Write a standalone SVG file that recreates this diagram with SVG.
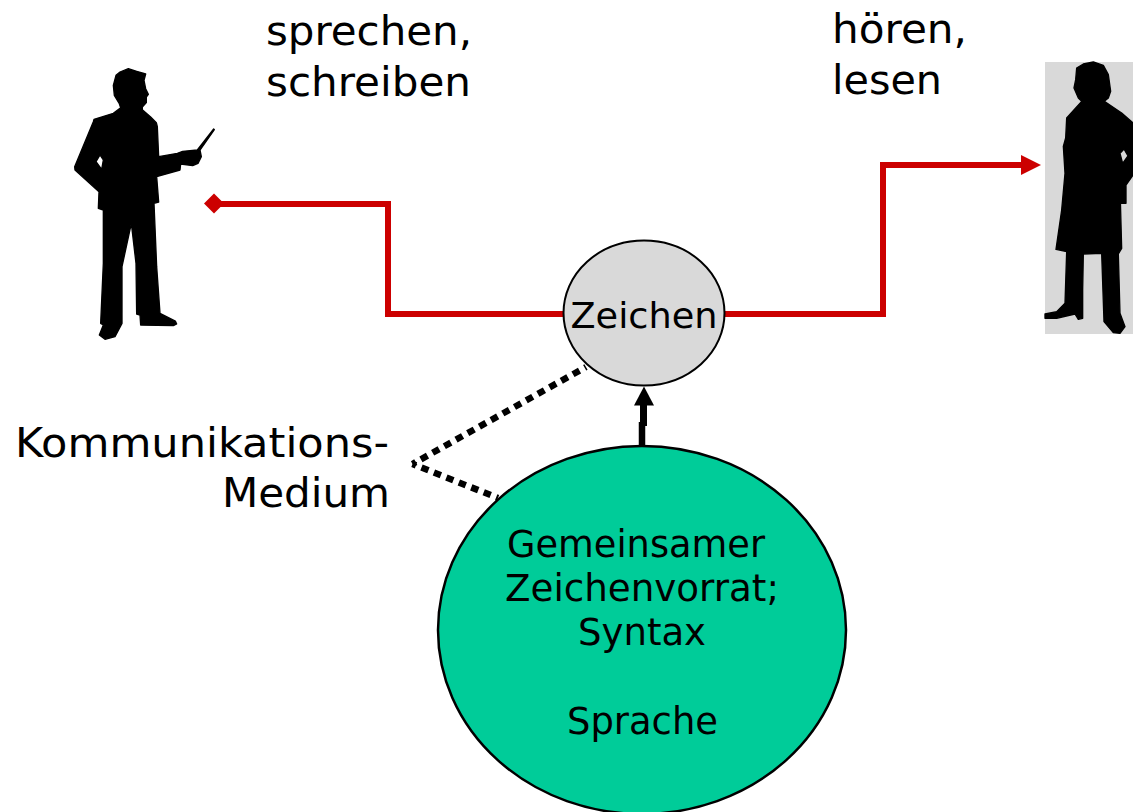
<svg xmlns="http://www.w3.org/2000/svg" width="1133" height="812" viewBox="0 0 1133 812">
<style>
text{font-family:"DejaVu Sans",Verdana,sans-serif;fill:#000}
.big{font-size:40px}
.mid{font-size:37px}
.red{fill:none;stroke:#cc0000;stroke-width:6}
.dot{fill:none;stroke:#000;stroke-width:6.500;stroke-dasharray:7.500 5.900;stroke-dashoffset:3.750}
.sil{fill:#000;stroke:#000;stroke-width:4;stroke-linejoin:round;fill-rule:evenodd}
</style>
<rect width="1133" height="812" fill="#fff"/>
<g id="connectors">
<path class="red" d="M218 204H388V314H564"/>
<path d="M204 203.500L214 193.500L224 203.500L214 213.500Z" fill="#cc0000"/>
<path class="red" d="M724 314H883V165H1024"/>
<path d="M1021 155L1041 165L1021 175Z" fill="#cc0000"/>
<path d="M642 446V422" stroke="#000" stroke-width="6.500" fill="none"/>
<path d="M643.500 426V402" stroke="#000" stroke-width="7" fill="none"/>
<path d="M644 386.500L634 405.500H654Z" fill="#000"/>
<path class="dot" d="M412.500 464L586 367"/>
<path class="dot" d="M412.500 464L498 498"/>
</g>
<g id="speaker">
<path class="sil" transform="translate(60 60) scale(.33333)" d="M180 36L205 26L230 34L257 42L252 61L257 86L265 103L259 111L259 128L247 141L247 149L272 171L289 188L292 200L296 290L352 280L368 274L412 270L461 207L463 209L420 270L424 290L414 310L398 317L362 312L360 330L290 350L296 426L282 430L290 620L300 760L346 783L350 792L340 797L242 795L240 765L230 762L228 610L214 490L186 620L186 790L165 830L135 838L118 825L130 795L122 790L130 610L130 450L115 445L117 395L45 330L44 320L100 185L102 178L160 160L182 143L178 131L163 106L160 76L168 46ZM108 305L120 285L130 300L125 328Z"/>
</g>
<g id="listener">
<rect x="1045" y="62" width="88" height="272" fill="#d9d9d9"/>
<path class="sil" transform="translate(1020 50) scale(.33333)" d="M170 54L190 42L220 36L250 46L265 74L272 124L265 144L253 154L305 189L339 219V375L318 405L318 460L302 460L300 410L305 595L295 612L300 790L315 830L300 850L280 848L252 815L245 610L190 612L188 720L188 805L175 808L165 792L110 805L75 805V792L110 785L135 760L140 605L108 598L125 480L135 370L130 289L137 264L140 204L185 154L175 144L162 114L167 89ZM300 310L312 297L324 318L308 340Z"/>
</g>
<g id="zeichen">
<ellipse cx="644" cy="313" rx="80.500" ry="72.500" fill="#d9d9d9" stroke="#000" stroke-width="2"/>
<text x="644" y="328" font-size="36" text-anchor="middle" textLength="147" lengthAdjust="spacingAndGlyphs">Zeichen</text>
</g>
<g id="sprache">
<ellipse cx="642" cy="630" rx="204" ry="184" fill="#00cc99" stroke="#000" stroke-width="2.500"/>
<text class="mid" x="507" y="557" textLength="258" lengthAdjust="spacingAndGlyphs">Gemeinsamer</text>
<text class="mid" x="505" y="601" textLength="274" lengthAdjust="spacingAndGlyphs">Zeichenvorrat;</text>
<text class="mid" x="578" y="645" textLength="128" lengthAdjust="spacingAndGlyphs">Syntax</text>
<text class="mid" x="567" y="734" textLength="151" lengthAdjust="spacingAndGlyphs">Sprache</text>
</g>
<g id="labels">
<text class="big" x="266" y="45" textLength="206" lengthAdjust="spacingAndGlyphs">sprechen,</text>
<text class="big" x="266" y="96" textLength="205" lengthAdjust="spacingAndGlyphs">schreiben</text>
<text class="big" x="832" y="43" textLength="135" lengthAdjust="spacingAndGlyphs">hören,</text>
<text class="big" x="832" y="94" textLength="110" lengthAdjust="spacingAndGlyphs">lesen</text>
<text class="big" x="15" y="457" textLength="374" lengthAdjust="spacingAndGlyphs">Kommunikations-</text>
<text class="big" x="222" y="507" textLength="168" lengthAdjust="spacingAndGlyphs">Medium</text>
</g>
</svg>
